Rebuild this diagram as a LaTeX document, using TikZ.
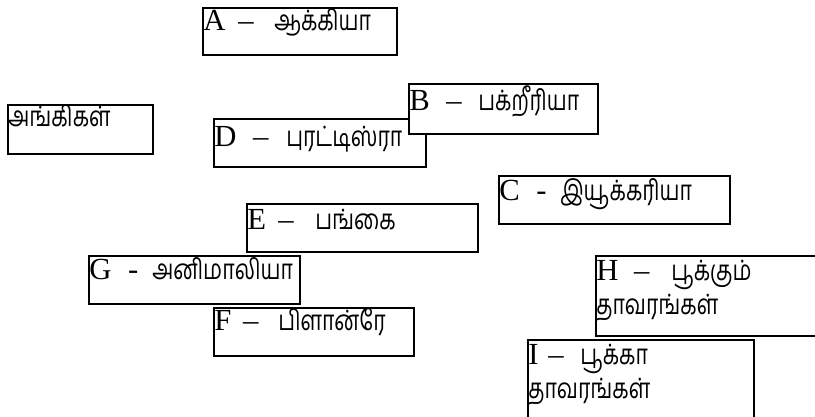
\documentclass[tikz,border=0pt]{standalone}
\usepackage{fontspec}
\usepackage{graphicx}
\setmainfont{Liberation Serif}
\newfontfamily\tamilfnt[Script=Tamil]{Hind Madurai}
\newcommand\tam[1]{\scalebox{0.76}[1]{\fontsize{21pt}{25pt}\tamilfnt #1}}
\newlength\px
\setlength\px{0.75pt}
\newcommand\mklab[5]{\makebox[#1\px][l]{#3}\makebox[#2\px][l]{#4}\tam{#5}}
\begin{document}
\begin{tikzpicture}[x=0.75pt,y=-0.75pt,
  box/.style={draw,line width=1.5pt,fill=white,inner sep=0pt,anchor=north west},
  lbl/.style={inner sep=0pt,anchor=base west,font=\fontsize{23pt}{27pt}\selectfont}]
\useasboundingbox (0,0) rectangle (815,417);
% A
\node[box,minimum width=194\px,minimum height=47\px] (boxA) at (202,7) {};
\node[lbl] (tA) at (203,31) {\mklab{35}{36}{A}{–}{ஆக்கியா}};
% Angikal
\node[box,minimum width=145\px,minimum height=49\px] (boxK) at (7,104) {};
\node[lbl] (tK) at (8,127) {\tam{அங்கிகள்}};
% D
\node[box,minimum width=212\px,minimum height=48\px] (boxD) at (213,118) {};
\node[lbl] (tD) at (214,147) {\mklab{39}{33}{D}{–}{புரட்டிஸ்ரா}};
% B
\node[box,minimum width=189\px,minimum height=50\px] (boxB) at (408,83) {};
\node[lbl] (tB) at (409,111) {\mklab{37}{32}{B}{–}{பக்றீரியா}};
% C
\node[box,minimum width=231\px,minimum height=48\px] (boxC) at (498,175) {};
\node[lbl] (tC) at (499,201) {\mklab{37}{24}{C}{-}{இயூக்கரியா}};
% E
\node[box,minimum width=231\px,minimum height=48\px] (boxE) at (246,203) {};
\node[lbl] (tE) at (247,230) {\mklab{31}{37}{E}{–}{பங்கை}};
% G
\node[box,minimum width=211\px,minimum height=48\px] (boxG) at (88,255) {};
\node[lbl] (tG) at (89,280) {\mklab{39}{24}{G}{-}{அனிமாலியா}};
% F
\node[box,minimum width=200\px,minimum height=48\px] (boxF) at (213,307) {};
\node[lbl] (tF) at (214,331) {\mklab{29}{35}{F}{–}{பிளான்ரே}};
% H
\node[box,minimum width=240\px,minimum height=80\px] (boxH) at (595,255) {};
\node[lbl] (tH1) at (596,281) {\mklab{38}{37}{H}{–}{பூக்கும்}};
\node[lbl] (tH2) at (596,315) {\tam{தாவரங்கள்}};
% I
\node[box,minimum width=226\px,minimum height=100\px] (boxI) at (527,339) {};
\node[lbl] (tI1) at (528,364) {\mklab{20}{32}{I}{–}{பூக்கா}};
\node[lbl] (tI2) at (528,398) {\tam{தாவரங்கள்}};
\end{tikzpicture}
\end{document}
